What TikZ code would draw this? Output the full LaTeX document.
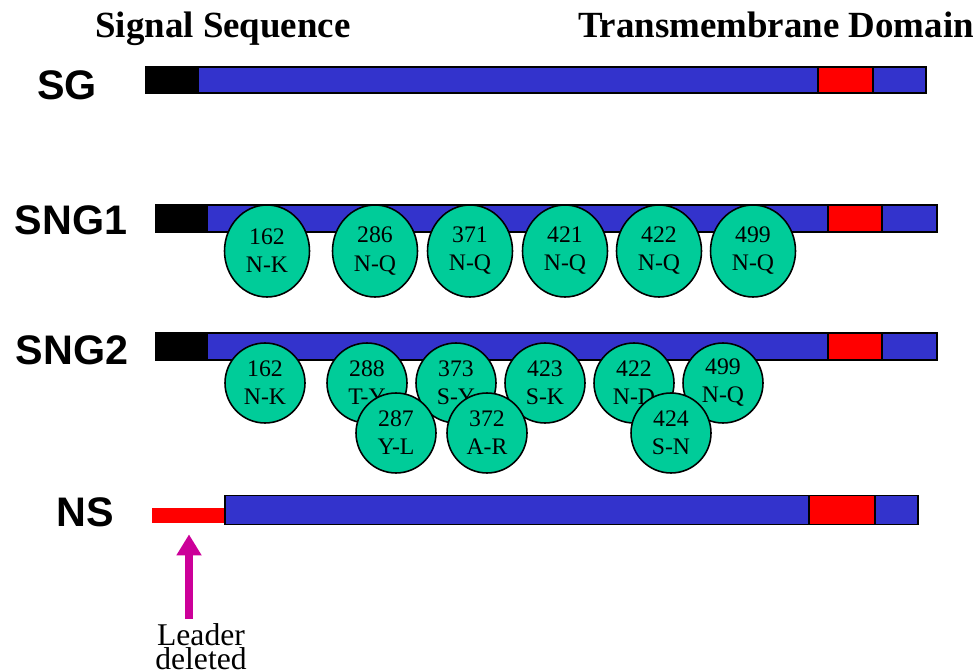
\documentclass[tikz,border=0pt]{standalone}
\usepackage{fontspec}
\setmainfont{Liberation Serif}
\newfontfamily\protfont{Liberation Sans}
\usepackage{tikz}
\usetikzlibrary{shapes.geometric, arrows.meta, positioning}
\definecolor{protblue}{RGB}{51,51,204}
\definecolor{sitegreen}{RGB}{0,204,153}
\definecolor{tmred}{RGB}{255,0,0}
\definecolor{leadmag}{RGB}{204,0,153}
\tikzset{
  protbar/.style={rectangle, draw=black, fill=protblue, anchor=west,
    minimum height=0.54cm, inner sep=0pt, line width=1pt},
  sigseg/.style={rectangle, fill=black, anchor=west,
    minimum height=0.54cm, inner sep=0pt},
  tmseg/.style={rectangle, draw=black, fill=tmred, anchor=west,
    minimum height=0.54cm, inner sep=0pt, line width=1pt},
  site/.style={ellipse, draw=black, fill=sitegreen, minimum width=1.7cm,
    minimum height=1.84cm, inner sep=0pt, align=center, line width=0.9pt,
    font=\fontsize{13.5}{16}\selectfont},
  subsite/.style={site, minimum width=1.6cm, minimum height=1.6cm},
  rowlabel/.style={font=\protfont\bfseries\fontsize{23.5}{26}\selectfont, inner sep=0pt},
  heading/.style={font=\bfseries\fontsize{21}{24}\selectfont, inner sep=0pt, anchor=base},
  leadarrow/.style={-{Triangle[length=12pt, width=13.6pt]}, line width=4.5pt, color=leadmag}
}

\begin{document}
\begin{tikzpicture}[x=0.02cm, y=-0.02cm]
  \useasboundingbox (0,0) rectangle (980,672);

  % Headings
  \node[heading] (sighead) at (223,38) {Signal Sequence};
  \node[heading] (tmhead) at (776,38) {Transmembrane Domain};

  % SG
  \node[rowlabel] (sglab) at (67,85) {SG};
  \node[protbar, minimum width=15.6cm, minimum height=0.52cm] (sg) at (145,80) {};
  \node[sigseg, minimum width=1.08cm, minimum height=0.52cm] (sg-ss) at (145,80) {};
  \node[tmseg, minimum width=1.1cm, minimum height=0.52cm] (sg-tm) at (817,80) {};

  % SNG1
  \node[rowlabel] (sng1lab) at (71,220) {SNG1};
  \node[protbar, minimum width=15.62cm] (sng1) at (155,218.5) {};
  \node[sigseg, minimum width=1.06cm] (sng1-ss) at (155,218.5) {};
  \node[tmseg, minimum width=1.08cm] (sng1-tm) at (827,218.5) {};
  \node[site] (a162) at (267,251) {162\\N-K};
  \node[site] (a286) at (375,251) {286\\N-Q};
  \node[site] (a371) at (470,251) {371\\N-Q};
  \node[site] (a421) at (565,251) {421\\N-Q};
  \node[site] (a422) at (659,251) {422\\N-Q};
  \node[site] (a499) at (753,251) {499\\N-Q};

  % SNG2
  \node[rowlabel] (sng2lab) at (72,350) {SNG2};
  \node[protbar, minimum width=15.62cm] (sng2) at (155,346.5) {};
  \node[sigseg, minimum width=1.06cm] (sng2-ss) at (155,346.5) {};
  \node[tmseg, minimum width=1.08cm] (sng2-tm) at (827,346.5) {};
  \node[subsite] (b162) at (265,383) {162\\N-K};
  \node[subsite] (b288) at (367,383) {288\\T-Y};
  \node[subsite] (b373) at (456,383) {373\\S-Y};
  \node[subsite] (b423) at (545,383) {423\\S-K};
  \node[subsite] (b422) at (634,383) {422\\N-D};
  \node[subsite] (b499) at (723,383) {499\\N-Q};
  \node[subsite] (b287) at (396,433) {287\\Y-L};
  \node[subsite] (b372) at (487,433) {372\\A-R};
  \node[subsite] (b424) at (671,433) {424\\S-N};

  % NS
  \node[rowlabel] (nslab) at (85,512) {NS};
  \node[rectangle, fill=tmred, anchor=west, minimum width=1.44cm,
    minimum height=0.3cm, inner sep=0pt] (ns-lead) at (152,515.5) {};
  \node[protbar, minimum width=13.86cm, minimum height=0.58cm] (ns) at (224,510) {};
  \node[tmseg, minimum width=1.32cm, minimum height=0.58cm] (ns-tm) at (808,510) {};

  % Leader
  \node[anchor=north, align=center, inner sep=0pt,
    font=\fontsize{18}{12.5}\selectfont] (leader) at (201,623) {Leader\\deleted};
  \coordinate (leadtail) at (189,619);
  \draw[leadarrow, shorten >=0.22cm] (leadtail) -- (leadtail |- ns-lead.south);
\end{tikzpicture}
\end{document}
